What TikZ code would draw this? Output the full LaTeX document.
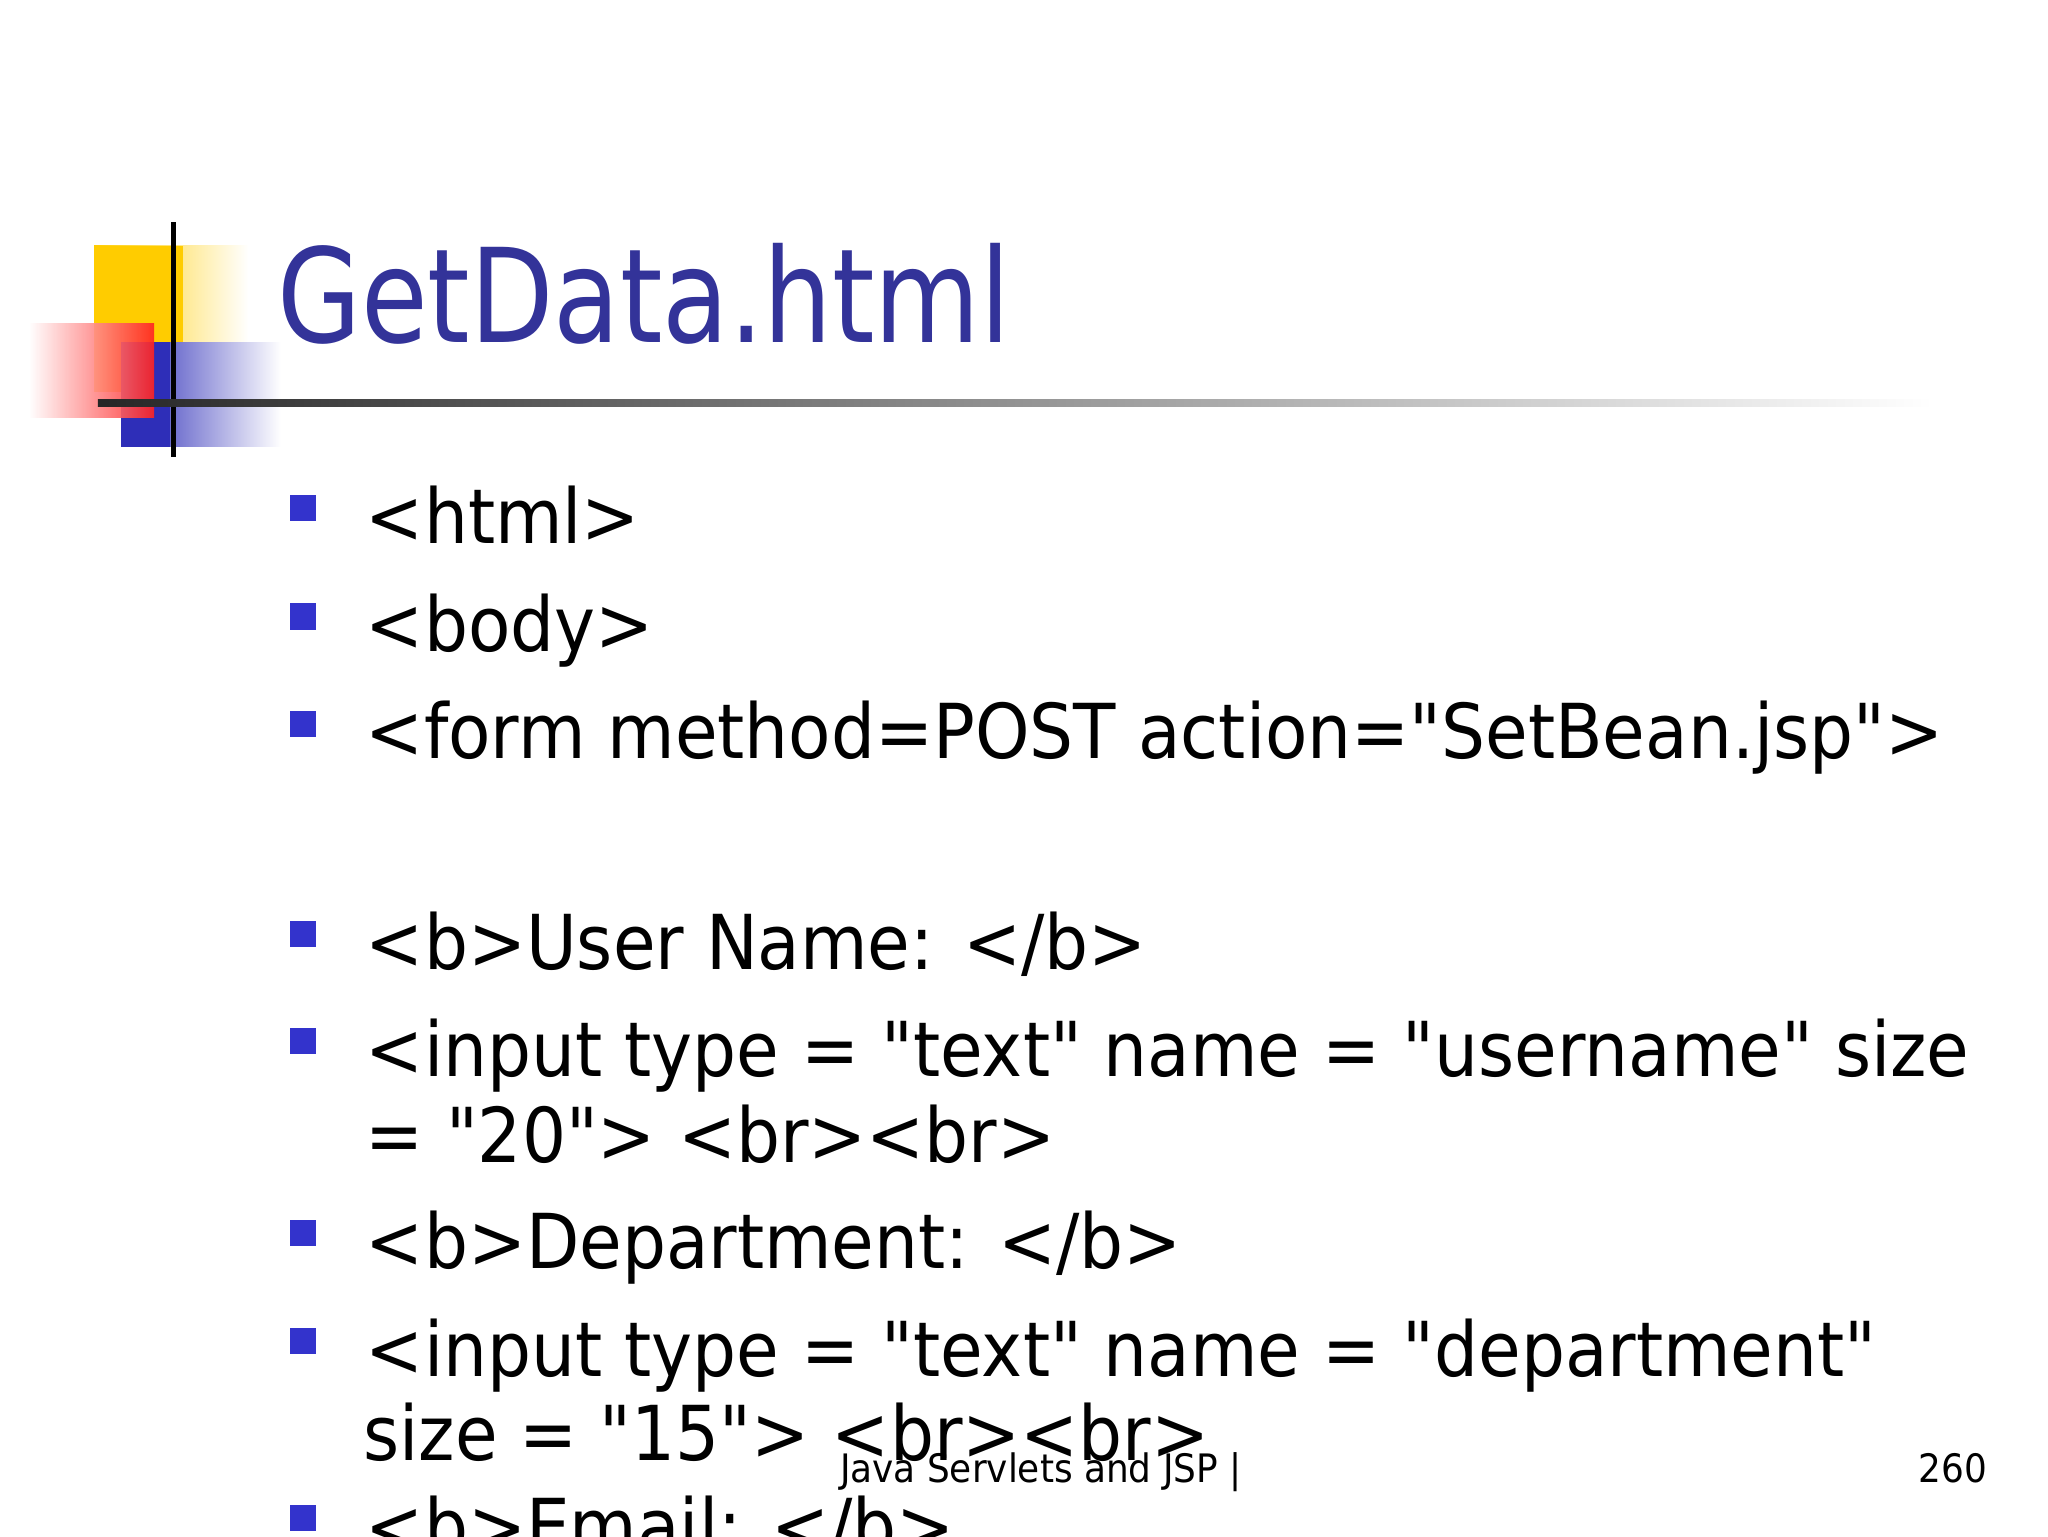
\documentclass[tikz,border=0pt]{standalone}
\usepackage{fontspec}
\setmainfont[FakeStretch=0.83]{DejaVu Sans}
\newfontfamily\bodyf[FakeStretch=0.915]{DejaVu Sans}
\definecolor{ttl}{HTML}{333399}
\definecolor{bul}{HTML}{3333CC}
\definecolor{yel}{HTML}{FFCC00}
\definecolor{rd}{HTML}{FF2222}
\begin{document}
\begin{tikzpicture}[x=1pt,y=-1pt,
  body/.style={anchor=base west,inner sep=0pt,font=\bodyf\fontsize{58}{70}\selectfont},
  bullet/.style={fill=bul,minimum size=20pt,inner sep=0pt,draw=none},
  foot/.style={anchor=base west,inner sep=0pt,font=\bodyf\fontsize{30}{32}\selectfont}]
\useasboundingbox (0,0) rectangle (1568,1176);
\clip (0,0) rectangle (1568,1176);
% logo
\shade[left color=yel,right color=white] (72,188) rectangle (190,300);
\fill[yel] (72,188) rectangle (140,300);
\shade[left color=bul!90!black,right color=white] (93,262) rectangle (215,342);
\fill[bul!90!black] (93,262) rectangle (130,342);
\shade[left color=white,right color=rd,opacity=0.9] (22,248) rectangle (118,320);
\draw[line width=4pt,black] (133,170) -- (133,350);
\shade[left color=black!85,right color=white] (75,306) rectangle (1480,311);
% title
\node[anchor=base west,inner sep=0pt,text=ttl,font=\fontsize{100}{110}\selectfont] (title) at (212,262) {GetData.html};
% bullets and lines
\foreach \n/\y in {1/392,2/475,3/557,4/718,5/800,6/947,7/1030,8/1165}
  \node[bullet] (b\n) at (232,\y-3) {};
\node[body] (t1) at (280,416) {<html>};
\node[body] (t2) at (280,499) {<body>};
\node[body] (t3) at (280,581) {<form method=POST action="SetBean.jsp">};
\node[body] (t4) at (280,742) {<b>User Name: </b>};
\node[body] (t5) at (280,824) {<input type = "text" name = "username" size};
\node[body] (t5b) at (280,890) {= "20"> <br><br>};
\node[body] (t6) at (280,971) {<b>Department: </b>};
\node[body] (t7) at (280,1054) {<input type = "text" name = "department"};
\node[body] (t7b) at (278,1118) {size = "15"> <br><br>};
\node[body] (t8) at (280,1189) {<b>Email: </b>};
\node[foot] (f1) at (643,1135) {Java Servlets and JSP |};
\node[foot] (f2) at (1469,1135) {260};
\end{tikzpicture}
\end{document}
